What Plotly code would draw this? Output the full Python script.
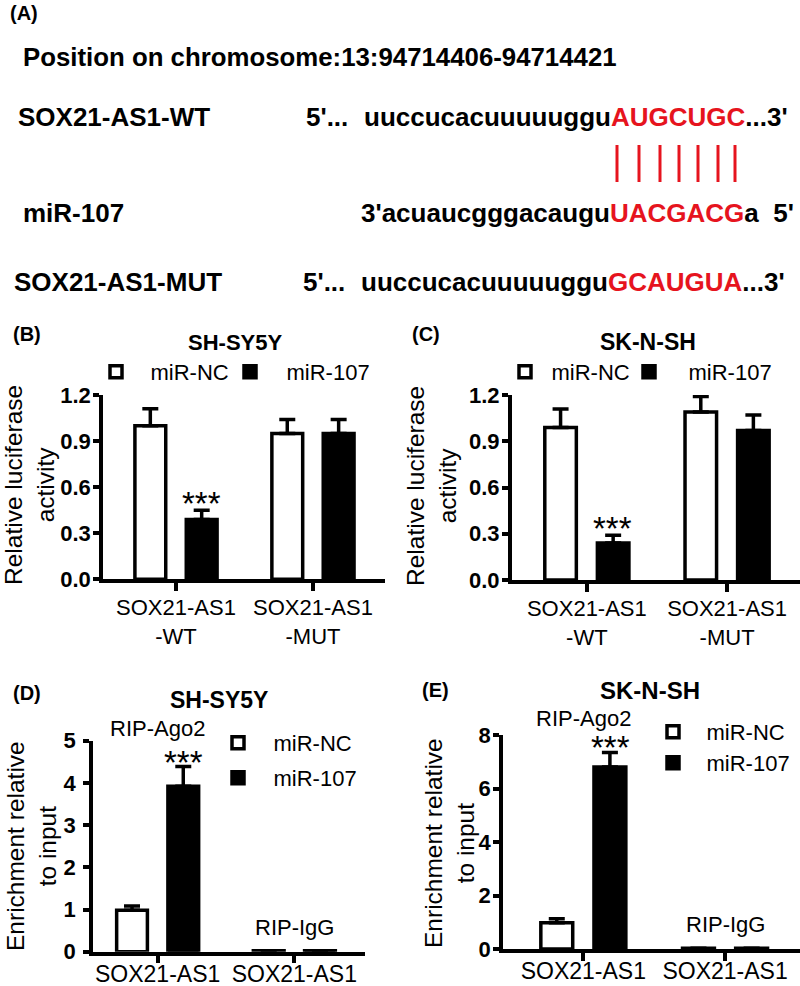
import plotly.graph_objects as go

W, H = 800, 986
def px(x): return x / W
def py(y): return 1 - y / H

# ---------------- data ----------------
series = ["miR-NC", "miR-107"]

luc_cats = ["SOX21-AS1<br>-WT", "SOX21-AS1<br>-MUT"]
b_nc, b_nc_err = [1.00, 0.95], [0.11, 0.09]
b_107, b_107_err = [0.39, 0.95], [0.06, 0.09]
c_nc, c_nc_err = [0.99, 1.09], [0.12, 0.10]
c_107, c_107_err = [0.24, 0.97], [0.05, 0.10]

rip_cats = ["RIP-Ago2", "RIP-IgG"]
rip_ticks = ["SOX21-AS1", "SOX21-AS1"]
d_nc, d_nc_err = [0.98, 0.02], [0.10, 0.0]
d_107, d_107_err = [3.92, 0.02], [0.47, 0.0]
e_nc, e_nc_err = [0.98, 0.03], [0.15, 0.0]
e_107, e_107_err = [6.80, 0.03], [0.55, 0.0]

yticks_luc = [0.0, 0.3, 0.6, 0.9, 1.2]

RED = "#e6141e"
FONT = "Liberation Sans, Arial, sans-serif"
LW = 3.5

fig = go.Figure()

panels = [
    ("x", "y", luc_cats, b_nc, b_nc_err, b_107, b_107_err, ("legend", "legend2")),
    ("x2", "y2", luc_cats, c_nc, c_nc_err, c_107, c_107_err, ("legend3", "legend4")),
    ("x3", "y3", rip_cats, d_nc, d_nc_err, d_107, d_107_err, ("legend5", "legend6")),
    ("x4", "y4", rip_cats, e_nc, e_nc_err, e_107, e_107_err, ("legend7", "legend8")),
]
for xa, ya, cats, nc, nce, m107, m107e, lgs in panels:
    for name, vals, errs, fill, lg in [(series[0], nc, nce, "white", lgs[0]),
                                       (series[1], m107, m107e, "black", lgs[1])]:
        fig.add_trace(go.Bar(
            x=cats, y=vals, name=name, xaxis=xa, yaxis=ya, legend=lg,
            marker=dict(color=fill, line=dict(color="black", width=LW)),
            error_y=dict(type="data", array=errs, arrayminus=[0] * len(errs), symmetric=False,
                         color="black", thickness=LW, width=8),
            showlegend=True,
        ))

axis_common = dict(showline=True, linewidth=LW, linecolor="black", ticks="outside",
                   tickwidth=LW, tickcolor="black", showgrid=False, zeroline=False,
                   fixedrange=True, automargin=False)

xtickfont = dict(family=FONT, size=22, color="black")
xtickfont2 = dict(family=FONT, size=23, color="black")
ytickfont = dict(family=FONT, size=22, color="black", weight="bold")

fig.update_layout(
    width=W, height=H, margin=dict(l=0, r=0, t=0, b=0, autoexpand=False),
    paper_bgcolor="white", plot_bgcolor="white",
    barmode="group", bargap=0.25, bargroupgap=0.40,
    font=dict(family=FONT, color="black"),
    xaxis=dict(domain=[px(103), px(385)], anchor="y", range=[-0.533, 1.526], ticklen=8,
               tickfont=xtickfont, ticklabelstandoff=-2, **axis_common),
    yaxis=dict(domain=[py(579.3), py(395)], anchor="x", range=[0, 1.2], tickvals=yticks_luc,
               tickformat=".1f", ticklen=6, tickfont=ytickfont, ticklabelstandoff=-2,
               **axis_common),
    xaxis2=dict(domain=[px(511.7), 1.0], anchor="y2", range=[-0.536, 1.52], ticklen=8,
                tickfont=xtickfont, ticklabelstandoff=-2, **axis_common),
    yaxis2=dict(domain=[py(580), py(395)], anchor="x2", range=[0, 1.2], tickvals=yticks_luc,
                tickformat=".1f", ticklen=6, tickfont=ytickfont, ticklabelstandoff=-2,
                **axis_common),
    xaxis3=dict(domain=[px(93), px(365)], anchor="y3", range=[-0.473, 1.517], ticklen=8,
                tickvals=rip_cats, ticktext=rip_ticks, tickfont=xtickfont2,
                ticklabelstandoff=-9, **axis_common),
    yaxis3=dict(domain=[py(951.7), py(740.7)], anchor="x3", range=[0, 5], dtick=1,
                ticklen=6, tickfont=ytickfont, ticklabelstandoff=3, **axis_common),
    xaxis4=dict(domain=[px(503), 1.0], anchor="y4", range=[-0.567, 1.529], ticklen=8,
                tickvals=rip_cats, ticktext=rip_ticks, tickfont=xtickfont2,
                ticklabelstandoff=-9, **axis_common),
    yaxis4=dict(domain=[py(949), py(735)], anchor="x4", range=[0, 8], dtick=2,
                ticklen=6, tickfont=ytickfont, ticklabelstandoff=-2, **axis_common),
)

# one legend per entry so that every entry sits where the reference has it
legfont = dict(family=FONT, size=22, color="black")
def leg(icon_x, text_x, y):
    iw = 2 * (text_x - icon_x - 4.5)
    return dict(orientation="v", x=px(icon_x - 7 - iw / 2), y=py(y), xanchor="left",
                yanchor="middle", itemwidth=iw, font=legfont, bgcolor="rgba(0,0,0,0)",
                itemclick=False, itemdoubleclick=False)

fig.update_layout(
    legend=leg(118, 152, 372), legend2=leg(252, 288, 372),
    legend3=leg(527, 553, 372), legend4=leg(651, 690, 372),
    legend5=leg(240, 275, 743), legend6=leg(240, 275, 778),
    legend7=leg(675, 708, 732), legend8=leg(675, 708, 763),
)

ann = []
def txt(text, x, y, size, bold=True, xanchor="left", color="black", angle=0):
    ann.append(dict(text=text, x=px(x), y=py(y), xref="paper", yref="paper",
                    xanchor=xanchor, yanchor="middle", showarrow=False, textangle=angle,
                    font=dict(family=FONT, size=size, color=color,
                              weight="bold" if bold else "normal")))

# ---- panel A ----
def red(s):
    return "<span style='color:%s'>%s</span>" % (RED, s)

SEQ = 26
txt("(A)", 8, 13, 20)
txt("Position on chromosome:13:94714406-94714421", 21, 57, 25.8)
txt("SOX21-AS1-WT", 16, 117, SEQ)
txt("5'...", 304, 117, SEQ)
txt("uuccucacuuuuuggu" + red("AUGCUGC") + "...3'", 362, 117, SEQ)
txt("miR-107", 21, 213, SEQ)
txt("3'acuaucgggacaugu" + red("UACGACG") + "a\u00a0 5'", 359, 213, SEQ)
txt("SOX21-AS1-MUT", 12, 282, SEQ)
txt("5'...", 301, 282, SEQ)
txt("uuccucacuuuuuggu" + red("GCAUGUA") + "...3'", 359, 282, SEQ)

shapes = []
for lx in [617, 639, 660, 679, 698, 718, 735]:
    shapes.append(dict(type="line", xref="paper", yref="paper", x0=px(lx), x1=px(lx),
                       y0=py(145), y1=py(182), line=dict(color=RED, width=3)))

# ---- panel labels, titles, y-axis titles ----
txt("(B)", 11, 334, 20)
txt("SH-SY5Y", 235, 342, 22, xanchor="center")
txt("(C)", 410, 334, 20)
txt("SK-N-SH", 648, 342, 23, xanchor="center")
txt("(D)", 11, 693, 20)
txt("SH-SY5Y", 219, 700, 23, xanchor="center")
txt("(E)", 420, 690, 20)
txt("SK-N-SH", 650, 690, 24, xanchor="center")

txt("Relative luciferase<br>activity", 30, 485, 24.5, bold=False, xanchor="center", angle=-90)
txt("Relative luciferase<br>activity", 431, 486, 24.5, bold=False, xanchor="center", angle=-90)
txt("Enrichment relative<br>to input", 31, 846, 24.5, bold=False, xanchor="center", angle=-90)
txt("Enrichment relative<br>to input", 449, 843, 24.5, bold=False, xanchor="center", angle=-90)

# ---- significance stars and group labels ----
def stars(xa, ya, cat, top, shift, yshift):
    ann.append(dict(text="***", x=cat, y=top, xref=xa, yref=ya, xshift=shift, yshift=yshift,
                    xanchor="center", yanchor="middle", showarrow=False,
                    font=dict(family=FONT, size=33, color="black")))

stars("x", "y", luc_cats[0], b_107[0] + b_107_err[0], 25, 7)
stars("x2", "y2", luc_cats[0], c_107[0] + c_107_err[0], 26, 7)
stars("x3", "y3", rip_cats[0], d_107[0] + d_107_err[0], 26, 4)
stars("x4", "y4", rip_cats[0], e_107[0] + e_107_err[0], 27, 5)

def label(xa, ya, cat, yfrac, text):
    ann.append(dict(text=text, x=cat, y=yfrac, xref=xa, yref=ya + " domain", xanchor="center",
                    yanchor="middle", showarrow=False,
                    font=dict(family=FONT, size=22, color="black")))

label("x3", "y3", rip_cats[0], 5.30 / 5, "RIP-Ago2")
label("x3", "y3", rip_cats[1], 0.58 / 5, "RIP-IgG")
label("x4", "y4", rip_cats[0], 8.62 / 8, "RIP-Ago2")
label("x4", "y4", rip_cats[1], 0.90 / 8, "RIP-IgG")

fig.update_layout(annotations=ann, shapes=shapes)

fig.write_html("out.html", config={"displayModeBar": False},
               post_script="document.body.style.margin='0';")
